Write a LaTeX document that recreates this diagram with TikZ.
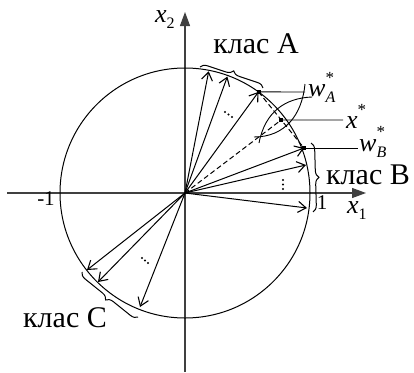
\documentclass[tikz,border=0pt]{standalone}
\usepackage{fontspec}
\setmainfont{Liberation Serif}
\usetikzlibrary{arrows.meta,decorations.pathreplacing,calc}
\tikzset{
  vec/.style={line width=1pt,-{Straight Barb[length=8pt,width=11pt,line width=1.1pt]}},
  axis/.style={line width=1.2pt,black!75,-{Triangle[length=14pt,width=10pt]}},
  brc/.style={line width=1pt,decorate,decoration={brace,amplitude=7pt}},
  lbl/.style={inner sep=0pt,font=\fontsize{30}{30}\selectfont},
  mlbl/.style={inner sep=0pt,font=\fontsize{26}{26}\selectfont},
  num/.style={inner sep=0pt,font=\fontsize{21}{21}\selectfont},
  pt/.style={fill=black,inner sep=0pt,minimum size=4pt},
  dotm/.style={fill=black,circle,inner sep=0pt,minimum size=2.2pt}
}
\newcommand{\wlab}[1]{\textit{w}\rlap{\raisebox{1.1ex}{\fontsize{17}{17}\selectfont *}}\raisebox{-0.5ex}{\fontsize{16}{16}\selectfont\textit{#1}}}
\begin{document}
\begin{tikzpicture}[x=1pt,y=-1pt]
\useasboundingbox (0,0) rectangle (414,372);
\coordinate (O) at (185,193);
% axes
\coordinate (xl) at (7,193);
\coordinate (xr) at (366,193);
\coordinate (yb) at (185,372);
\coordinate (yt) at (185,12);
\draw[axis] (xl) -- (xr);
\draw[axis] (yb) -- (yt);
% circle
\draw[line width=1pt] (O) circle[radius=125];
% vector end points
\coordinate (A1) at (208.7,71.3);
\coordinate (A2) at (227.4,76.5);
\coordinate (wA) at (258.5,91.9);
\coordinate (wB) at (304,148);
\coordinate (B2) at (306,165);
\coordinate (B3) at (307,208);
\coordinate (C1) at (87,270);
\coordinate (C2) at (98,282);
\coordinate (C3) at (140,307);
\coordinate (xs) at ($(wA)!0.5!(wB)$);
\foreach \p in {A1,A2,wA,wB,B2,B3,C1,C2,C3} \draw[vec] (O) -- (\p);
% dashed
\draw[line width=1pt,dash pattern=on 5pt off 3pt] (O) -- (xs);
\draw[line width=1pt,dash pattern=on 5pt off 3pt] (wA) -- (xs) -- (wB);
% lens
\coordinate (L1s) at (259,143);
\coordinate (L1a) at (265,112);
\coordinate (L1b) at (285,98);
\coordinate (L1e) at (312,97);
\coordinate (L2s) at (254,137);
\coordinate (L2a) at (285,137);
\coordinate (L2b) at (302,115);
\coordinate (L2e) at (305,84);
\draw[line width=0.9pt] (L1s) .. controls (L1a) and (L1b) .. (L1e);
\draw[line width=0.9pt] (L2s) .. controls (L2a) and (L2b) .. (L2e);
% points
\node[pt] (pA) at (wA) {};
\node[pt] (px) at (xs) {};
\node[pt] (pB) at (wB) {};
\coordinate (eA) at (305,92);
\coordinate (ex) at (343,120);
\coordinate (eB) at (358,148);
\draw[line width=0.9pt] (pA.center) -- (eA);
\draw[line width=0.9pt] (px.center) -- (ex);
\draw[line width=0.9pt] (pB.center) -- (eB);
% dots
\node[dotm] (da1) at (225,112) {};
\node[dotm] (da2) at (228.5,114.5) {};
\node[dotm] (da3) at (232,117) {};
\node[dotm] (db1) at (283,180) {};
\node[dotm] (db2) at (283,184.5) {};
\node[dotm] (db3) at (283,189) {};
\node[dotm] (dc1) at (142,258) {};
\node[dotm] (dc2) at (145,260.5) {};
\node[dotm] (dc3) at (148,263) {};
% braces
\coordinate (bA1) at (200,67);
\coordinate (bA2) at (263,88);
\coordinate (bB1) at (311,143);
\coordinate (bB2) at (313,212);
\coordinate (bC1) at (138,317);
\coordinate (bC2) at (82,272);
\draw[brc] (bA1) -- (bA2);
\draw[brc] (bB1) -- (bB2);
\draw[brc] (bC1) -- (bC2);
% labels
\node[lbl] (clA) at (256,44) {клас А};
\node[lbl] (clB) at (368,175) {клас В};
\node[lbl] (clC) at (65,318) {клас С};
\node[mlbl,anchor=west] (lwA) at (308,87) {\wlab{A}};
\node[mlbl,anchor=west] (lx) at (346,116) {\textit{x}\raisebox{1.1ex}{\fontsize{17}{17}\selectfont *}};
\node[mlbl,anchor=west] (lwB) at (359,142) {\wlab{B}};
\node[mlbl,anchor=west] (lx1) at (347,211) {\textit{x}\raisebox{-0.5ex}{\fontsize{16}{16}\selectfont 1}};
\node[mlbl,anchor=west] (lx2) at (155,20) {\textit{x}\raisebox{-0.5ex}{\fontsize{16}{16}\selectfont 2}};
\node[num] (n1) at (322,203) {1};
\node[num] (nm1) at (46,199) {-1};
\end{tikzpicture}
\end{document}
